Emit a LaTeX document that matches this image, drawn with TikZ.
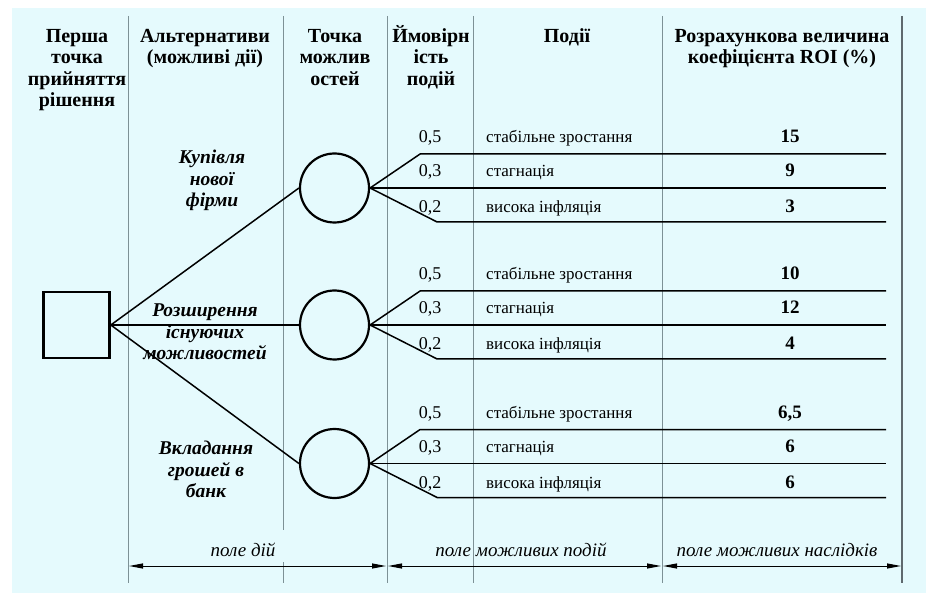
\documentclass[tikz,border=0pt]{standalone}
\usepackage{fontspec}
\setmainfont{Liberation Serif}
\usetikzlibrary{arrows.meta}

\definecolor{bgcyan}{RGB}{229,250,253}
\definecolor{gridgray}{RGB}{125,145,150}
\definecolor{framegray}{RGB}{95,105,110}

\tikzset{
  head/.style={font=\fontsize{20}{21.5}\selectfont\bfseries, align=center, anchor=north, inner sep=0pt},
  alt/.style={font=\fontsize{19.5}{21.5}\selectfont\bfseries\itshape, align=center, anchor=north, inner sep=0pt},
  prob/.style={font=\fontsize{18}{20}\selectfont, anchor=base, inner sep=0pt},
  ev/.style={font=\fontsize{17}{20}\selectfont, anchor=base west, inner sep=0pt},
  roi/.style={font=\fontsize{19}{20}\selectfont\bfseries, anchor=base, inner sep=0pt},
  field/.style={font=\fontsize{19}{20}\selectfont\itshape, anchor=base, inner sep=0pt},
  decision/.style={rectangle, draw, line width=2.6pt, minimum size=66pt, inner sep=0pt},
  chance/.style={circle, draw, line width=2.2pt, minimum size=69pt, inner sep=0pt},
  branch/.style={line width=1.5pt},
  colline/.style={draw=gridgray, line width=0.8pt},
  dim/.style={{Triangle[length=14pt,width=5pt]}-{Triangle[length=14pt,width=5pt]}, line width=1pt, shorten <=1pt, shorten >=1pt},
}

\begin{document}
\begin{tikzpicture}[x=1pt, y=-1pt]

    % Background
    \useasboundingbox (0,0) rectangle (926,593);
    \fill[white] (0,0) rectangle (926,593);
    \fill[bgcyan] (12,8) rectangle (926,593);

    % Column lines
    \draw[colline] (128,16) -- (128,583);
    \draw[colline] (283,16) -- (283,530);
    \draw[colline] (283,562) -- (283,583);
    \draw[colline] (387,16) -- (387,583);
    \draw[colline] (473,16) -- (473,583);
    \draw[colline] (662,16) -- (662,583);
    \draw[framegray, line width=1.6pt] (902,16) -- (902,583);

    % Headers
    \node[head] (hd_dec) at (77,29) {Перша\\точка\\прийняття\\рішення};
    \node[head] (hd_alt) at (205,29) {Альтернативи\\(можливі дії)};
    \node[head] (hd_pt) at (335,29) {Точка\\можлив\\остей};
    \node[head] (hd_prob) at (431,25) {Ймовірн\\ість\\подій};
    \node[head] (hd_ev) at (567,28) {Події};
    \node[head] (hd_roi) at (782,29) {Розрахункова величина\\коефіцієнта ROI (\%)};

    % Decision and chance points
    \node[decision] (dec) at (76.5,325) {};
    \node[chance] (c_1) at (334.5,188) {};
    \node[chance] (c_2) at (334.5,325) {};
    \node[chance] (c_3) at (334.5,463.5) {};

    % Alternatives
    \draw[branch] (dec.east) -- (c_1.west);
    \draw[branch] (dec.east) -- (c_2.west);
    \draw[branch] (dec.east) -- (c_3.west);
    \node[alt] (alt_1) at (212,150) {Купівля\\нової\\фірми};
    \node[alt] (alt_2) at (205,304) {Розширення\\існуючих\\можливостей};
    \node[alt] (alt_3) at (206,441) {Вкладання\\грошей в\\банк};

    % Events: c_1
    \coordinate (e_1a) at (886,154);
    \coordinate (e_1b) at (886,188);
    \coordinate (e_1c) at (886,222);
    \draw[branch] (c_1.east) -- ++(50,-34) -- (e_1a);
    \draw[branch] (c_1.east) -- (e_1b);
    \draw[branch] (c_1.east) -- ++(67,34) -- (e_1c);
    \node[prob] (pr_1a) at (430,143) {0,5};
    \node[prob] (pr_1b) at (430,177) {0,3};
    \node[prob] (pr_1c) at (430,213) {0,2};
    \node[ev] (ev_1a) at (486,143) {стабільне зростання};
    \node[ev] (ev_1b) at (486,177) {стагнація};
    \node[ev] (ev_1c) at (486,213) {висока інфляція};
    \node[roi] (roi_1a) at (790,143) {15};
    \node[roi] (roi_1b) at (790,177) {9};
    \node[roi] (roi_1c) at (790,213) {3};

    % Events: c_2
    \coordinate (e_2a) at (886,291);
    \coordinate (e_2b) at (886,325);
    \coordinate (e_2c) at (886,359);
    \draw[branch] (c_2.east) -- ++(50,-34) -- (e_2a);
    \draw[branch] (c_2.east) -- (e_2b);
    \draw[branch] (c_2.east) -- ++(67,34) -- (e_2c);
    \node[prob] (pr_2a) at (430,280) {0,5};
    \node[prob] (pr_2b) at (430,314) {0,3};
    \node[prob] (pr_2c) at (430,350) {0,2};
    \node[ev] (ev_2a) at (486,280) {стабільне зростання};
    \node[ev] (ev_2b) at (486,314) {стагнація};
    \node[ev] (ev_2c) at (486,350) {висока інфляція};
    \node[roi] (roi_2a) at (790,280) {10};
    \node[roi] (roi_2b) at (790,314) {12};
    \node[roi] (roi_2c) at (790,350) {4};

    % Events: c_3
    \coordinate (e_3a) at (886,429.5);
    \coordinate (e_3b) at (886,463.5);
    \coordinate (e_3c) at (886,497.5);
    \draw[branch] (c_3.east) -- ++(50,-34) -- (e_3a);
    \draw[branch] (c_3.east) -- (e_3b);
    \draw[branch] (c_3.east) -- ++(67,34) -- (e_3c);
    \node[prob] (pr_3a) at (430,418.5) {0,5};
    \node[prob] (pr_3b) at (430,452.5) {0,3};
    \node[prob] (pr_3c) at (430,488.5) {0,2};
    \node[ev] (ev_3a) at (486,418.5) {стабільне зростання};
    \node[ev] (ev_3b) at (486,452.5) {стагнація};
    \node[ev] (ev_3c) at (486,488.5) {висока інфляція};
    \node[roi] (roi_3a) at (790,418.5) {6,5};
    \node[roi] (roi_3b) at (790,452.5) {6};
    \node[roi] (roi_3c) at (790,488.5) {6};

    % Fields
    \coordinate (f_a) at (128,566);
    \coordinate (f_b) at (387,566);
    \coordinate (f_c) at (662,566);
    \coordinate (f_d) at (902,566);
    \draw[dim] (f_a) -- (f_b);
    \draw[dim] (f_b) -- (f_c);
    \draw[dim] (f_c) -- (f_d);
    \node[field] (fl_act) at (243,556) {поле дій};
    \node[field] (fl_ev) at (521,556) {поле можливих подій};
    \node[field] (fl_res) at (777,556) {поле можливих наслідків};

\end{tikzpicture}
\end{document}
